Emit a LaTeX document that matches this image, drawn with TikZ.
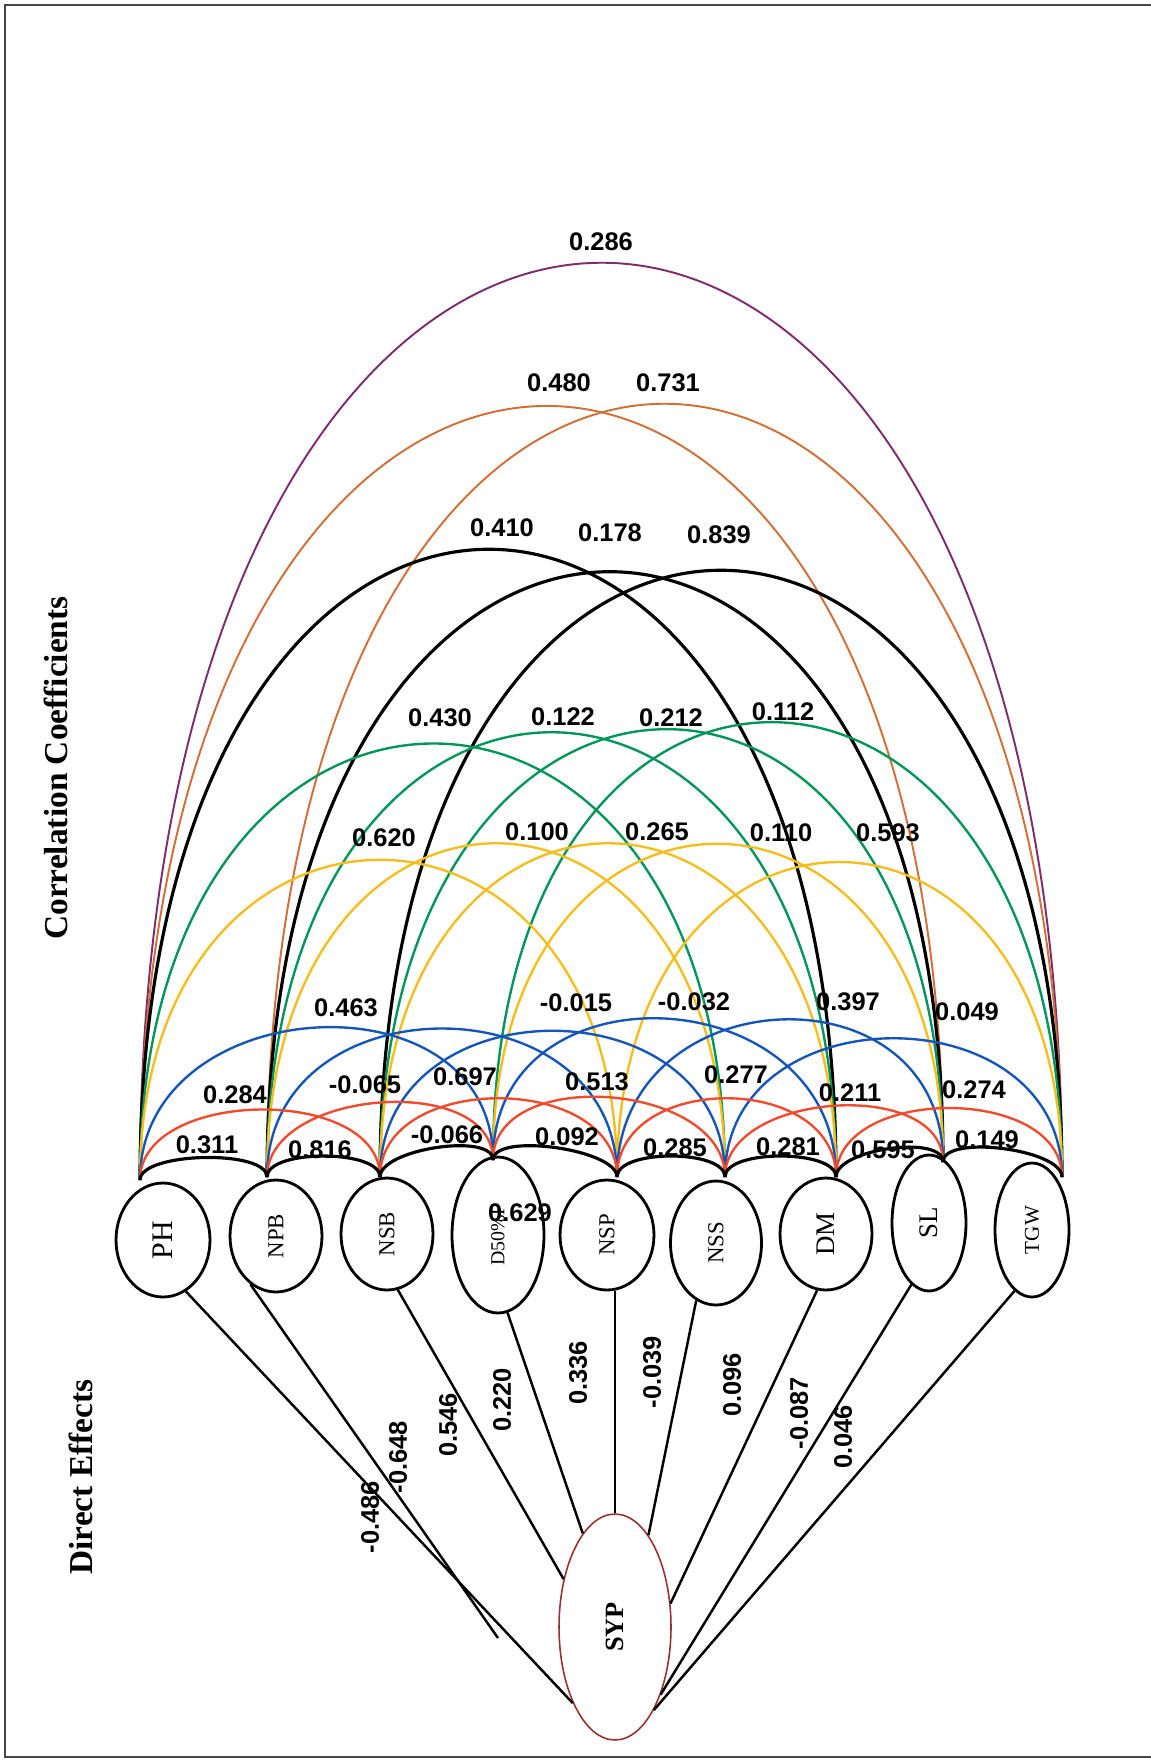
\documentclass[tikz,border=0pt]{standalone}
\usepackage{fontspec}
\usepackage{graphicx}
\setmainfont{Liberation Serif}
\newfontfamily\numfont{Liberation Sans}
\usetikzlibrary{shapes.geometric}

\definecolor{arcpurple}{RGB}{125,45,110}
\definecolor{arcorange}{RGB}{210,110,55}
\definecolor{arcgreen}{RGB}{0,150,90}
\definecolor{arcyellow}{RGB}{245,190,30}
\definecolor{arcblue}{RGB}{20,85,185}
\definecolor{arcred}{RGB}{240,75,45}
\definecolor{sypline}{RGB}{150,50,50}
\definecolor{framegray}{RGB}{70,70,70}

% correlation arc between two anchor points, k = height of the control handles
\newcommand\corr[4]{\draw[#4] (#1) .. controls +(0,-#3) and +(0,-#3) .. (#2);}
% coefficient label
\newcommand\clab[3]{\node[coef] (#1) at (#2) {#3};}
% rotated direct-effect label
\newcommand\dlab[3]{\node[coef,rotate=90] (#1) at (#2) {#3};}

\begin{document}
\begin{tikzpicture}[x=0.02cm,y=-0.02cm,
  var/.style={ellipse,draw,line width=1.6pt,inner sep=0pt},
  coef/.style={font=\numfont\bfseries\fontsize{14.5}{14.5}\selectfont,inner sep=0pt},
  title/.style={font=\bfseries\fontsize{19}{19}\selectfont,rotate=90,inner sep=0pt},
  direct/.style={line width=1.4pt,black},
  cA/.style={line width=1.8pt,black},
  cB/.style={line width=1.35pt,arcred},
  cC/.style={line width=1.35pt,arcblue},
  cD/.style={line width=1.35pt,arcyellow},
  cE/.style={line width=1.35pt,arcgreen},
  cF/.style={line width=1.8pt,black},
  cG/.style={line width=1.1pt,arcorange},
  cH/.style={line width=1.1pt,arcpurple}]

\useasboundingbox (0,0) rectangle (1151,1760);
\fill[white] (0,0) rectangle (1151,1760);
\draw[framegray,line width=1.2pt] (1151,5) -- (5,5) -- (5,1757) -- (1151,1757);

% side titles
\node[title] (tcorr) at (56,768) {Correlation Coefficients};
\node[title] (tdir) at (81,1477) {Direct Effects};

% trait nodes
\node[var,minimum width=1.88cm,minimum height=2.28cm] (PH) at (163,1240)
  {\rotatebox{90}{\fontsize{17}{17}\selectfont PH}};
\node[var,minimum width=1.84cm,minimum height=2.24cm] (NPB) at (276,1236)
  {\rotatebox{90}{\fontsize{13}{13}\selectfont NPB}};
\node[var,minimum width=1.84cm,minimum height=2.24cm] (NSB) at (387,1234)
  {\rotatebox{90}{\fontsize{13}{13}\selectfont NSB}};
\node[var,minimum width=1.84cm,minimum height=3.12cm] (D50) at (498,1235)
  {\rotatebox{90}{\fontsize{11.3}{11.3}\selectfont D50\%F}};
\node[var,minimum width=1.88cm,minimum height=2.2cm] (NSP) at (607,1235)
  {\rotatebox{90}{\fontsize{13}{13}\selectfont NSP}};
\node[var,minimum width=1.82cm,minimum height=2.48cm] (NSS) at (716,1243)
  {\rotatebox{90}{\fontsize{13}{13}\selectfont NSS}};
\node[var,minimum width=1.84cm,minimum height=2.24cm] (DM) at (826,1234)
  {\rotatebox{90}{\fontsize{15.3}{15.3}\selectfont DM}};
\node[var,minimum width=1.48cm,minimum height=2.72cm] (SL) at (929,1223)
  {\rotatebox{90}{\fontsize{15.3}{15.3}\selectfont SL}};
\node[var,minimum width=1.48cm,minimum height=2.68cm] (TGW) at (1032,1230)
  {\rotatebox{90}{\fontsize{12}{12}\selectfont TGW}};
\node[ellipse,draw=sypline,line width=0.9pt,inner sep=0pt,
      minimum width=2.24cm,minimum height=4.52cm] (SYP) at (615,1627)
  {\rotatebox{90}{\bfseries\fontsize{15}{15}\selectfont SYP}};

% meeting points of the correlation arcs above each trait
\coordinate (aPH)  at (140,1180);
\coordinate (aNPB) at (267,1177);
\coordinate (aNSB) at (380,1177);
\coordinate (aD50) at (493,1160);
\coordinate (aNSP) at (617,1177);
\coordinate (aNSS) at (725,1177);
\coordinate (aDM)  at (836,1177);
\coordinate (aSL)  at (943,1162);
\coordinate (aTGW) at (1062,1177);

% widest arcs first
\corr{aPH}{aTGW}{1221}{cH}
\corr{aPH}{aSL}{1020}{cG}
\corr{aNPB}{aTGW}{1031}{cG}
\corr{aPH}{aDM}{839}{cF}
\corr{aNPB}{aSL}{797}{cF}
\corr{aNSB}{aTGW}{809}{cF}
\corr{aPH}{aNSS}{580}{cE}
\corr{aNPB}{aDM}{593}{cE}
\corr{aNSB}{aSL}{587}{cE}
\corr{aD50}{aTGW}{595}{cE}
\corr{aPH}{aNSP}{425}{cD}
\corr{aNPB}{aNSS}{445}{cD}
\corr{aNSB}{aDM}{445}{cD}
\corr{aD50}{aSL}{423}{cD}
\corr{aNSP}{aTGW}{420}{cD}
\corr{aPH}{aD50}{190}{cC}
\corr{aNPB}{aNSP}{198}{cC}
\corr{aNSB}{aNSS}{195}{cC}
\corr{aD50}{aDM}{200}{cC}
\corr{aNSP}{aSL}{200}{cC}
\corr{aNSS}{aTGW}{185}{cC}
\corr{aPH}{aNSB}{92}{cB}
\corr{aNPB}{aD50}{88}{cB}
\corr{aNSB}{aNSP}{105}{cB}
\corr{aD50}{aNSS}{95}{cB}
\corr{aNSP}{aDM}{105}{cB}
\corr{aNSS}{aSL}{85}{cB}
\corr{aDM}{aTGW}{92}{cB}
\corr{aPH}{aNPB}{28}{cA}
\corr{aNPB}{aNSB}{28}{cA}
\corr{aNSB}{aD50}{28}{cA}
\corr{aD50}{aNSP}{28}{cA}
\corr{aNSP}{aNSS}{28}{cA}
\corr{aNSS}{aDM}{28}{cA}
\corr{aDM}{aSL}{28}{cA}
\corr{aSL}{aTGW}{28}{cA}

% correlation coefficients
\clab{r18}{601,242}{0.286}
\clab{r17a}{559,383}{0.480}
\clab{r17b}{668,383}{0.731}
\clab{r16a}{502,528}{0.410}
\clab{r16b}{610,533}{0.178}
\clab{r16c}{719,535}{0.839}
\clab{r15a}{440,718}{0.430}
\clab{r15b}{563,717}{0.122}
\clab{r15c}{671,718}{0.212}
\clab{r15d}{783,712}{0.112}
\clab{r14a}{384,838}{0.620}
\clab{r14b}{537,832}{0.100}
\clab{r14c}{657,832}{0.265}
\clab{r14d}{781,833}{0.110}
\clab{r14e}{888,833}{0.593}
\clab{r13a}{346,1008}{0.463}
\clab{r13b}{576,1003}{-0.015}
\clab{r13c}{694,1002}{-0.032}
\clab{r13d}{848,1002}{0.397}
\clab{r13e}{967,1012}{0.049}
\clab{r13f}{520,1213}{0.629}
\clab{r12a}{235,1095}{0.284}
\clab{r12b}{365,1085}{-0.065}
\clab{r12c}{465,1077}{0.697}
\clab{r12d}{597,1082}{0.513}
\clab{r12e}{736,1075}{0.277}
\clab{r12f}{850,1093}{0.211}
\clab{r12g}{974,1090}{0.274}
\clab{r11a}{207,1145}{0.311}
\clab{r11b}{320,1150}{0.816}
\clab{r11c}{447,1135}{-0.066}
\clab{r11d}{567,1137}{0.092}
\clab{r11e}{675,1148}{0.285}
\clab{r11f}{788,1147}{0.281}
\clab{r11g}{883,1150}{0.595}
\clab{r11h}{987,1140}{0.149}

% direct effects on SYP
\coordinate (endNPB) at (498,1638);
\draw[direct] (PH.-66) -- (SYP.-119);
\draw[direct] (NPB.-118) -- (endNPB);
\draw[direct] (NSB.-79) -- (SYP.137);
\draw[direct] (D50.-83) -- (SYP.109);
\draw[direct] (NSP.south -| SYP.north) -- (SYP.north);
\draw[direct] (NSS.-109) -- (SYP.70);
\draw[direct] (DM.-99) -- (SYP.23);
\draw[direct] (SL.-106) -- (SYP.-56);
\draw[direct] (TGW.-106) -- (SYP.-65);

\dlab{pPH}{370,1517}{-0.486}
\dlab{pNPB}{398,1457}{-0.648}
\dlab{pNSB}{448,1425}{0.546}
\dlab{pD50}{502,1400}{0.220}
\dlab{pNSP}{578,1373}{0.336}
\dlab{pNSS}{652,1372}{-0.039}
\dlab{pDM}{732,1385}{0.096}
\dlab{pSL}{799,1413}{-0.087}
\dlab{pTGW}{843,1437}{0.046}
\end{tikzpicture}
\end{document}
